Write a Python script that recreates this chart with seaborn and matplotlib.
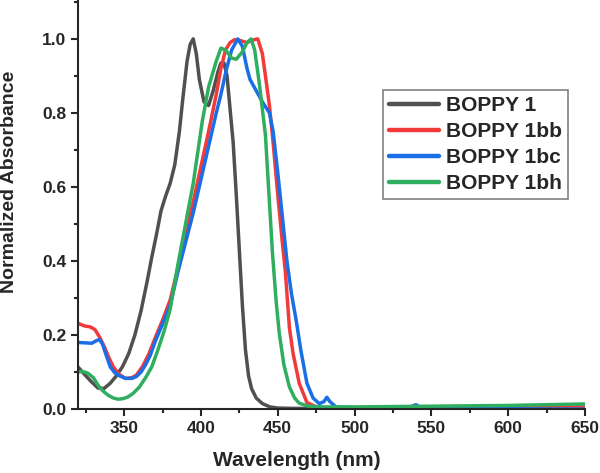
import numpy as np
import pandas as pd
import matplotlib
matplotlib.use('Agg')
import matplotlib.pyplot as plt
from matplotlib.ticker import MultipleLocator
import seaborn as sns

# absorbance spectra
wl_1 = [320, 324, 328, 333, 337, 341, 345, 349, 353, 357, 361, 365, 368, 371, 374, 377,
        380, 383, 386, 388, 391, 393, 395, 397, 399, 402, 405, 408, 411, 413, 415, 417,
        419, 421, 423, 425, 427, 429, 431, 433, 436, 440, 445, 450, 460, 480, 500, 550,
        600, 650]
abs_1 = [0.114, 0.095, 0.077, 0.057, 0.056, 0.070, 0.090, 0.115, 0.150, 0.200, 0.265, 0.345,
         0.410, 0.470, 0.535, 0.575, 0.610, 0.660, 0.750, 0.830, 0.940, 0.985, 1.000, 0.960,
         0.890, 0.830, 0.820, 0.860, 0.910, 0.935, 0.935, 0.900, 0.810, 0.720, 0.580, 0.430,
         0.280, 0.160, 0.090, 0.055, 0.030, 0.015, 0.006, 0.003, 0.002, 0.002, 0.002, 0.002,
         0.002, 0.002]

wl_1bb = [320, 324, 328, 331, 334, 337, 340, 343, 347, 351, 355, 358, 362, 366, 370, 375,
          380, 385, 390, 395, 400, 405, 410, 413, 416, 419, 422, 426, 430, 434, 437, 440,
          442, 444.6, 447, 450, 453, 455, 457.6, 460, 464, 469, 475, 480, 500, 520, 550, 565,
          600, 650]
abs_1bb = [0.232, 0.225, 0.222, 0.215, 0.195, 0.170, 0.140, 0.114, 0.093, 0.083, 0.085, 0.092,
           0.115, 0.148, 0.190, 0.240, 0.295, 0.380, 0.470, 0.560, 0.655, 0.750, 0.850, 0.920,
           0.970, 0.990, 0.998, 0.995, 0.990, 0.997, 1.000, 0.960, 0.900, 0.820, 0.720, 0.580,
           0.450, 0.370, 0.220, 0.150, 0.070, 0.018, 0.006, 0.004, 0.004, 0.006, 0.005, 0.007,
           0.006, 0.006]

wl_1bc = [320, 325, 329, 332, 334, 336, 338, 341, 344, 347, 351, 355, 358, 361, 364, 367,
          370, 375, 380, 385, 390, 395, 400, 405, 410, 413, 416.5, 420, 424, 427, 430, 432,
          436, 440, 444.6, 447, 450, 453, 456, 459, 462, 465, 469, 473, 477, 480, 482, 484,
          488, 500, 535, 540, 543, 560, 600, 650]
abs_1bc = [0.180, 0.179, 0.178, 0.185, 0.188, 0.175, 0.150, 0.114, 0.098, 0.090, 0.083, 0.083,
           0.088, 0.100, 0.120, 0.145, 0.180, 0.230, 0.280, 0.370, 0.450, 0.530, 0.620, 0.710,
           0.800, 0.850, 0.916, 0.970, 1.000, 0.980, 0.920, 0.890, 0.860, 0.830, 0.800, 0.750,
           0.640, 0.520, 0.400, 0.310, 0.240, 0.160, 0.070, 0.030, 0.015, 0.020, 0.032, 0.020,
           0.006, 0.004, 0.004, 0.012, 0.004, 0.002, 0.001, 0.000]

wl_1bh = [320, 323, 326.5, 330, 333, 336, 339.5, 343, 346, 349, 352.5, 356, 360, 364, 368,
          372, 376, 380, 385, 390, 395, 401, 405, 410, 413, 416, 420, 423, 427, 430, 432.7,
          435, 438, 440, 442, 444, 446.6, 449, 451, 454, 457.6, 461, 464, 470, 480, 500, 550,
          600, 650]
abs_1bh = [0.100, 0.102, 0.097, 0.085, 0.065, 0.050, 0.038, 0.030, 0.027, 0.028, 0.033, 0.043,
           0.060, 0.085, 0.114, 0.160, 0.210, 0.270, 0.390, 0.500, 0.610, 0.780, 0.870, 0.940,
           0.975, 0.970, 0.948, 0.945, 0.965, 0.990, 1.000, 0.970, 0.880, 0.810, 0.740, 0.600,
           0.420, 0.290, 0.205, 0.120, 0.060, 0.030, 0.016, 0.008, 0.006, 0.006, 0.008, 0.010,
           0.014]

names = ['BOPPY 1', 'BOPPY 1bb', 'BOPPY 1bc', 'BOPPY 1bh']
colors = ['#505050', '#f23a3a', '#1a6ee6', '#2fae5f']

frames = []
for name, wl, ab in zip(names, [wl_1, wl_1bb, wl_1bc, wl_1bh],
                        [abs_1, abs_1bb, abs_1bc, abs_1bh]):
    frames.append(pd.DataFrame({'Wavelength': wl, 'Absorbance': ab, 'Sample': name}))
df = pd.concat(frames, ignore_index=True)

sns.set_style('ticks')
plt.rcParams['font.family'] = ['Liberation Sans', 'DejaVu Sans']
plt.rcParams['font.weight'] = 'bold'

fig = plt.figure(figsize=(6, 4.73), dpi=100)
ax = fig.add_axes([0.13, 0.135, 0.845, 0.865])

sns.lineplot(data=df, x='Wavelength', y='Absorbance', hue='Sample', hue_order=names,
             palette=colors, linewidth=2.5, sort=False, ax=ax)

ax.set_xlim(320, 650)
ax.set_ylim(0, 1.105)
ax.xaxis.set_major_locator(MultipleLocator(50))
ax.xaxis.set_minor_locator(MultipleLocator(25))
ax.yaxis.set_major_locator(MultipleLocator(0.2))
ax.yaxis.set_minor_locator(MultipleLocator(0.1))
ax.set_xticks([350, 400, 450, 500, 550, 600, 650])
ax.yaxis.set_major_formatter(matplotlib.ticker.FormatStrFormatter('%.1f'))
ax.tick_params(which='major', length=5, width=1.5, labelsize=12.5)
ax.tick_params(which='minor', length=3, width=1.5)
for lbl in ax.get_xticklabels() + ax.get_yticklabels():
    lbl.set_fontweight('bold')

for side in ['top', 'right']:
    ax.spines[side].set_visible(False)
for side in ['left', 'bottom']:
    ax.spines[side].set_linewidth(1.5)

ax.set_xlabel('Wavelength (nm)', fontsize=15, fontweight='bold')
ax.set_ylabel('Normalized Absorbance', fontsize=14, fontweight='bold')
ax.xaxis.set_label_coords(0.432, -0.103)
ax.yaxis.set_label_coords(-0.118, 0.555)

leg = ax.legend(loc='upper left', bbox_to_anchor=(0.6016, 0.78), fontsize=15,
                frameon=True, fancybox=False, edgecolor='#606060', handlelength=2.4,
                labelspacing=0.34, borderpad=0.28, borderaxespad=0, handletextpad=0.35)
leg.get_frame().set_linewidth(1.2)
for line in leg.get_lines():
    line.set_linewidth(3.2)
for txt in leg.get_texts():
    txt.set_fontweight('bold')

fig.savefig('out.png', dpi=100)
